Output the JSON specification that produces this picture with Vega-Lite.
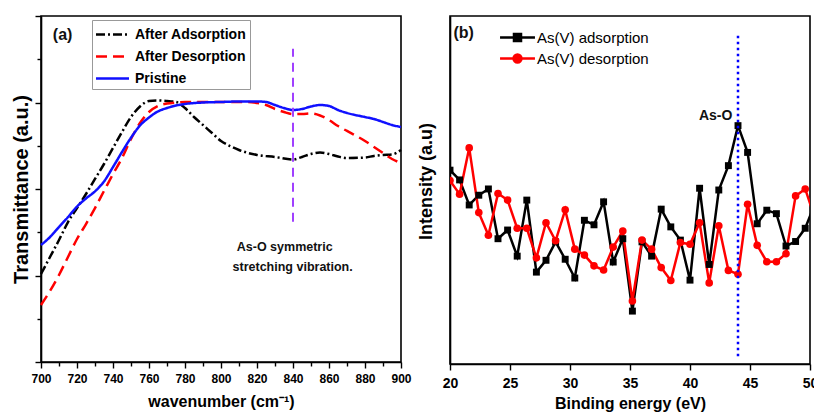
{
  "$schema": "https://vega.github.io/schema/vega-lite/v6.json",
  "background": "white",
  "padding": {"left": 10, "top": 14, "right": 4, "bottom": 2},
  "bounds": "flush",
  "spacing": 49,
  "config": {
    "font": "Liberation Sans, Arial, sans-serif",
    "view": {"stroke": "#000000", "strokeWidth": 1.6},
    "axis": {
      "domainColor": "#000000",
      "domainWidth": 1.6,
      "tickColor": "#000000",
      "tickWidth": 1.4,
      "labelColor": "#000000",
      "titleColor": "#000000",
      "labelFontWeight": "bold",
      "titleFontWeight": "bold",
      "grid": false,
      "labelFlush": false,
      "labelOverlap": false
    }
  },
  "datasets": {
    "ftir": [
      {"wavenumber": 700, "transmittance": 1.017, "sample": "After Adsorption"},
      {"wavenumber": 705, "transmittance": 1.214, "sample": "After Adsorption"},
      {"wavenumber": 710, "transmittance": 1.410, "sample": "After Adsorption"},
      {"wavenumber": 715, "transmittance": 1.618, "sample": "After Adsorption"},
      {"wavenumber": 720, "transmittance": 1.780, "sample": "After Adsorption"},
      {"wavenumber": 725, "transmittance": 1.942, "sample": "After Adsorption"},
      {"wavenumber": 730, "transmittance": 2.116, "sample": "After Adsorption"},
      {"wavenumber": 735, "transmittance": 2.289, "sample": "After Adsorption"},
      {"wavenumber": 740, "transmittance": 2.474, "sample": "After Adsorption"},
      {"wavenumber": 745, "transmittance": 2.659, "sample": "After Adsorption"},
      {"wavenumber": 750, "transmittance": 2.832, "sample": "After Adsorption"},
      {"wavenumber": 755, "transmittance": 2.954, "sample": "After Adsorption"},
      {"wavenumber": 760, "transmittance": 3.017, "sample": "After Adsorption"},
      {"wavenumber": 765, "transmittance": 3.023, "sample": "After Adsorption"},
      {"wavenumber": 770, "transmittance": 3.017, "sample": "After Adsorption"},
      {"wavenumber": 775, "transmittance": 3.006, "sample": "After Adsorption"},
      {"wavenumber": 780, "transmittance": 2.936, "sample": "After Adsorption"},
      {"wavenumber": 785, "transmittance": 2.832, "sample": "After Adsorption"},
      {"wavenumber": 790, "transmittance": 2.740, "sample": "After Adsorption"},
      {"wavenumber": 795, "transmittance": 2.647, "sample": "After Adsorption"},
      {"wavenumber": 800, "transmittance": 2.555, "sample": "After Adsorption"},
      {"wavenumber": 805, "transmittance": 2.497, "sample": "After Adsorption"},
      {"wavenumber": 810, "transmittance": 2.451, "sample": "After Adsorption"},
      {"wavenumber": 820, "transmittance": 2.393, "sample": "After Adsorption"},
      {"wavenumber": 830, "transmittance": 2.370, "sample": "After Adsorption"},
      {"wavenumber": 840, "transmittance": 2.341, "sample": "After Adsorption"},
      {"wavenumber": 845, "transmittance": 2.370, "sample": "After Adsorption"},
      {"wavenumber": 850, "transmittance": 2.405, "sample": "After Adsorption"},
      {"wavenumber": 855, "transmittance": 2.422, "sample": "After Adsorption"},
      {"wavenumber": 860, "transmittance": 2.405, "sample": "After Adsorption"},
      {"wavenumber": 865, "transmittance": 2.376, "sample": "After Adsorption"},
      {"wavenumber": 870, "transmittance": 2.358, "sample": "After Adsorption"},
      {"wavenumber": 880, "transmittance": 2.364, "sample": "After Adsorption"},
      {"wavenumber": 885, "transmittance": 2.382, "sample": "After Adsorption"},
      {"wavenumber": 890, "transmittance": 2.393, "sample": "After Adsorption"},
      {"wavenumber": 895, "transmittance": 2.399, "sample": "After Adsorption"},
      {"wavenumber": 900, "transmittance": 2.451, "sample": "After Adsorption"},

      {"wavenumber": 700, "transmittance": 0.659, "sample": "After Desorption"},
      {"wavenumber": 705, "transmittance": 0.821, "sample": "After Desorption"},
      {"wavenumber": 710, "transmittance": 1.006, "sample": "After Desorption"},
      {"wavenumber": 715, "transmittance": 1.214, "sample": "After Desorption"},
      {"wavenumber": 720, "transmittance": 1.422, "sample": "After Desorption"},
      {"wavenumber": 725, "transmittance": 1.595, "sample": "After Desorption"},
      {"wavenumber": 730, "transmittance": 1.780, "sample": "After Desorption"},
      {"wavenumber": 735, "transmittance": 1.977, "sample": "After Desorption"},
      {"wavenumber": 740, "transmittance": 2.173, "sample": "After Desorption"},
      {"wavenumber": 745, "transmittance": 2.358, "sample": "After Desorption"},
      {"wavenumber": 750, "transmittance": 2.578, "sample": "After Desorption"},
      {"wavenumber": 755, "transmittance": 2.763, "sample": "After Desorption"},
      {"wavenumber": 760, "transmittance": 2.890, "sample": "After Desorption"},
      {"wavenumber": 765, "transmittance": 2.960, "sample": "After Desorption"},
      {"wavenumber": 770, "transmittance": 2.988, "sample": "After Desorption"},
      {"wavenumber": 775, "transmittance": 3.000, "sample": "After Desorption"},
      {"wavenumber": 780, "transmittance": 3.006, "sample": "After Desorption"},
      {"wavenumber": 800, "transmittance": 3.006, "sample": "After Desorption"},
      {"wavenumber": 815, "transmittance": 3.006, "sample": "After Desorption"},
      {"wavenumber": 820, "transmittance": 2.994, "sample": "After Desorption"},
      {"wavenumber": 825, "transmittance": 2.971, "sample": "After Desorption"},
      {"wavenumber": 830, "transmittance": 2.925, "sample": "After Desorption"},
      {"wavenumber": 835, "transmittance": 2.890, "sample": "After Desorption"},
      {"wavenumber": 840, "transmittance": 2.867, "sample": "After Desorption"},
      {"wavenumber": 845, "transmittance": 2.867, "sample": "After Desorption"},
      {"wavenumber": 850, "transmittance": 2.873, "sample": "After Desorption"},
      {"wavenumber": 855, "transmittance": 2.850, "sample": "After Desorption"},
      {"wavenumber": 860, "transmittance": 2.798, "sample": "After Desorption"},
      {"wavenumber": 865, "transmittance": 2.728, "sample": "After Desorption"},
      {"wavenumber": 870, "transmittance": 2.671, "sample": "After Desorption"},
      {"wavenumber": 880, "transmittance": 2.555, "sample": "After Desorption"},
      {"wavenumber": 885, "transmittance": 2.486, "sample": "After Desorption"},
      {"wavenumber": 890, "transmittance": 2.416, "sample": "After Desorption"},
      {"wavenumber": 895, "transmittance": 2.347, "sample": "After Desorption"},
      {"wavenumber": 900, "transmittance": 2.301, "sample": "After Desorption"},

      {"wavenumber": 700, "transmittance": 1.353, "sample": "Pristine"},
      {"wavenumber": 705, "transmittance": 1.445, "sample": "Pristine"},
      {"wavenumber": 710, "transmittance": 1.561, "sample": "Pristine"},
      {"wavenumber": 715, "transmittance": 1.676, "sample": "Pristine"},
      {"wavenumber": 720, "transmittance": 1.797, "sample": "Pristine"},
      {"wavenumber": 725, "transmittance": 1.891, "sample": "Pristine"},
      {"wavenumber": 730, "transmittance": 1.973, "sample": "Pristine"},
      {"wavenumber": 735, "transmittance": 2.087, "sample": "Pristine"},
      {"wavenumber": 740, "transmittance": 2.254, "sample": "Pristine"},
      {"wavenumber": 745, "transmittance": 2.428, "sample": "Pristine"},
      {"wavenumber": 750, "transmittance": 2.593, "sample": "Pristine"},
      {"wavenumber": 755, "transmittance": 2.734, "sample": "Pristine"},
      {"wavenumber": 760, "transmittance": 2.827, "sample": "Pristine"},
      {"wavenumber": 765, "transmittance": 2.897, "sample": "Pristine"},
      {"wavenumber": 770, "transmittance": 2.936, "sample": "Pristine"},
      {"wavenumber": 775, "transmittance": 2.965, "sample": "Pristine"},
      {"wavenumber": 780, "transmittance": 2.983, "sample": "Pristine"},
      {"wavenumber": 790, "transmittance": 3.000, "sample": "Pristine"},
      {"wavenumber": 800, "transmittance": 3.006, "sample": "Pristine"},
      {"wavenumber": 810, "transmittance": 3.012, "sample": "Pristine"},
      {"wavenumber": 820, "transmittance": 3.012, "sample": "Pristine"},
      {"wavenumber": 825, "transmittance": 3.006, "sample": "Pristine"},
      {"wavenumber": 830, "transmittance": 2.971, "sample": "Pristine"},
      {"wavenumber": 835, "transmittance": 2.936, "sample": "Pristine"},
      {"wavenumber": 840, "transmittance": 2.913, "sample": "Pristine"},
      {"wavenumber": 845, "transmittance": 2.925, "sample": "Pristine"},
      {"wavenumber": 850, "transmittance": 2.954, "sample": "Pristine"},
      {"wavenumber": 855, "transmittance": 2.971, "sample": "Pristine"},
      {"wavenumber": 860, "transmittance": 2.960, "sample": "Pristine"},
      {"wavenumber": 865, "transmittance": 2.913, "sample": "Pristine"},
      {"wavenumber": 870, "transmittance": 2.879, "sample": "Pristine"},
      {"wavenumber": 880, "transmittance": 2.832, "sample": "Pristine"},
      {"wavenumber": 885, "transmittance": 2.809, "sample": "Pristine"},
      {"wavenumber": 890, "transmittance": 2.775, "sample": "Pristine"},
      {"wavenumber": 895, "transmittance": 2.740, "sample": "Pristine"},
      {"wavenumber": 900, "transmittance": 2.717, "sample": "Pristine"}
    ],
    "ftirMarker": [
      {"wavenumber": 840, "from": 1.62, "to": 3.62}
    ],
    "ftirNotes": [
      {"wavenumber": 712, "transmittance": 3.78, "note": "(a)", "size": 16},
      {"wavenumber": 835.4, "transmittance": 1.33, "note": "As-O symmetric", "size": 12.5},
      {"wavenumber": 839.8, "transmittance": 1.10, "note": "stretching vibration.", "size": 12.5}
    ],
    "xps": [
      {"energy": 20.0, "intensity": 55.7, "series": "As(V) adsorption"},
      {"energy": 20.8, "intensity": 52.9, "series": "As(V) adsorption"},
      {"energy": 21.6, "intensity": 45.7, "series": "As(V) adsorption"},
      {"energy": 22.4, "intensity": 48.5, "series": "As(V) adsorption"},
      {"energy": 23.2, "intensity": 50.3, "series": "As(V) adsorption"},
      {"energy": 24.0, "intensity": 36.0, "series": "As(V) adsorption"},
      {"energy": 24.8, "intensity": 38.5, "series": "As(V) adsorption"},
      {"energy": 25.6, "intensity": 31.0, "series": "As(V) adsorption"},
      {"energy": 26.4, "intensity": 47.1, "series": "As(V) adsorption"},
      {"energy": 27.2, "intensity": 26.4, "series": "As(V) adsorption"},
      {"energy": 28.0, "intensity": 29.8, "series": "As(V) adsorption"},
      {"energy": 28.8, "intensity": 35.1, "series": "As(V) adsorption"},
      {"energy": 29.6, "intensity": 30.1, "series": "As(V) adsorption"},
      {"energy": 30.4, "intensity": 24.7, "series": "As(V) adsorption"},
      {"energy": 31.2, "intensity": 41.3, "series": "As(V) adsorption"},
      {"energy": 32.0, "intensity": 40.0, "series": "As(V) adsorption"},
      {"energy": 32.8, "intensity": 46.6, "series": "As(V) adsorption"},
      {"energy": 33.6, "intensity": 29.3, "series": "As(V) adsorption"},
      {"energy": 34.4, "intensity": 36.0, "series": "As(V) adsorption"},
      {"energy": 35.2, "intensity": 15.2, "series": "As(V) adsorption"},
      {"energy": 36.0, "intensity": 35.1, "series": "As(V) adsorption"},
      {"energy": 36.8, "intensity": 31.0, "series": "As(V) adsorption"},
      {"energy": 37.6, "intensity": 44.5, "series": "As(V) adsorption"},
      {"energy": 38.4, "intensity": 39.4, "series": "As(V) adsorption"},
      {"energy": 39.2, "intensity": 35.6, "series": "As(V) adsorption"},
      {"energy": 40.0, "intensity": 24.1, "series": "As(V) adsorption"},
      {"energy": 40.8, "intensity": 50.5, "series": "As(V) adsorption"},
      {"energy": 41.6, "intensity": 28.6, "series": "As(V) adsorption"},
      {"energy": 42.4, "intensity": 50.0, "series": "As(V) adsorption"},
      {"energy": 43.2, "intensity": 57.0, "series": "As(V) adsorption"},
      {"energy": 44.0, "intensity": 68.5, "series": "As(V) adsorption"},
      {"energy": 44.8, "intensity": 60.8, "series": "As(V) adsorption"},
      {"energy": 45.6, "intensity": 40.3, "series": "As(V) adsorption"},
      {"energy": 46.4, "intensity": 44.2, "series": "As(V) adsorption"},
      {"energy": 47.2, "intensity": 43.2, "series": "As(V) adsorption"},
      {"energy": 48.0, "intensity": 33.9, "series": "As(V) adsorption"},
      {"energy": 48.8, "intensity": 35.2, "series": "As(V) adsorption"},
      {"energy": 49.6, "intensity": 39.0, "series": "As(V) adsorption"},
      {"energy": 50.4, "intensity": 46.0, "series": "As(V) adsorption"},

      {"energy": 20.0, "intensity": 52.7, "series": "As(V) desorption"},
      {"energy": 20.8, "intensity": 48.8, "series": "As(V) desorption"},
      {"energy": 21.6, "intensity": 62.1, "series": "As(V) desorption"},
      {"energy": 22.4, "intensity": 43.5, "series": "As(V) desorption"},
      {"energy": 23.2, "intensity": 37.0, "series": "As(V) desorption"},
      {"energy": 24.0, "intensity": 49.0, "series": "As(V) desorption"},
      {"energy": 24.8, "intensity": 47.1, "series": "As(V) desorption"},
      {"energy": 25.6, "intensity": 39.0, "series": "As(V) desorption"},
      {"energy": 26.4, "intensity": 39.0, "series": "As(V) desorption"},
      {"energy": 27.2, "intensity": 30.5, "series": "As(V) desorption"},
      {"energy": 28.0, "intensity": 40.6, "series": "As(V) desorption"},
      {"energy": 28.8, "intensity": 35.4, "series": "As(V) desorption"},
      {"energy": 29.6, "intensity": 44.3, "series": "As(V) desorption"},
      {"energy": 30.4, "intensity": 33.0, "series": "As(V) desorption"},
      {"energy": 31.2, "intensity": 31.3, "series": "As(V) desorption"},
      {"energy": 32.0, "intensity": 28.2, "series": "As(V) desorption"},
      {"energy": 32.8, "intensity": 27.0, "series": "As(V) desorption"},
      {"energy": 33.6, "intensity": 33.6, "series": "As(V) desorption"},
      {"energy": 34.4, "intensity": 38.2, "series": "As(V) desorption"},
      {"energy": 35.2, "intensity": 18.1, "series": "As(V) desorption"},
      {"energy": 36.0, "intensity": 35.6, "series": "As(V) desorption"},
      {"energy": 36.8, "intensity": 33.0, "series": "As(V) desorption"},
      {"energy": 37.6, "intensity": 27.7, "series": "As(V) desorption"},
      {"energy": 38.4, "intensity": 24.0, "series": "As(V) desorption"},
      {"energy": 39.2, "intensity": 34.9, "series": "As(V) desorption"},
      {"energy": 40.0, "intensity": 34.4, "series": "As(V) desorption"},
      {"energy": 40.8, "intensity": 40.6, "series": "As(V) desorption"},
      {"energy": 41.6, "intensity": 23.3, "series": "As(V) desorption"},
      {"energy": 42.4, "intensity": 39.7, "series": "As(V) desorption"},
      {"energy": 43.2, "intensity": 26.9, "series": "As(V) desorption"},
      {"energy": 44.0, "intensity": 25.8, "series": "As(V) desorption"},
      {"energy": 44.8, "intensity": 45.9, "series": "As(V) desorption"},
      {"energy": 45.6, "intensity": 34.1, "series": "As(V) desorption"},
      {"energy": 46.4, "intensity": 29.4, "series": "As(V) desorption"},
      {"energy": 47.2, "intensity": 29.4, "series": "As(V) desorption"},
      {"energy": 48.0, "intensity": 31.7, "series": "As(V) desorption"},
      {"energy": 48.8, "intensity": 48.3, "series": "As(V) desorption"},
      {"energy": 49.6, "intensity": 50.3, "series": "As(V) desorption"},
      {"energy": 50.4, "intensity": 42.0, "series": "As(V) desorption"}
    ],
    "xpsMarker": [
      {"energy": 44.0, "from": 2.2, "to": 95.0}
    ],
    "xpsNotes": [
      {"energy": 21.14, "intensity": 95.0, "note": "(b)", "size": 16},
      {"energy": 42.14, "intensity": 71.4, "note": "As-O", "size": 14}
    ]
  },
  "resolve": {
    "scale": {"color": "independent", "strokeDash": "independent"},
    "legend": {"color": "independent", "strokeDash": "independent"}
  },
  "hconcat": [
    {
      "width": 360,
      "height": 346,
      "resolve": {"axis": {"x": "independent"}},
      "layer": [
        {
          "data": {"name": "ftir"},
          "mark": {"type": "line", "strokeWidth": 2.5, "interpolate": "monotone"},
          "encoding": {
            "x": {
              "field": "wavenumber", "type": "quantitative",
              "scale": {"domain": [700, 900], "nice": false, "zero": false},
              "axis": {
                "orient": "bottom",
                "title": "wavenumber (cm⁻¹)",
                "titleFontSize": 16,
                "titlePadding": 9,
                "labelFontSize": 12,
                "labelPadding": 5,
                "labelOverlap": false,
                "values": [700, 720, 740, 760, 780, 800, 820, 840, 860, 880, 900],
                "tickSize": 6
              }
            },
            "y": {
              "field": "transmittance", "type": "quantitative",
              "scale": {"domain": [0, 4], "nice": false, "zero": false},
              "axis": {
                "title": "Transmittance (a.u.)",
                "titleFontSize": 20,
                "titlePadding": 3,
                "labels": false,
                "values": [0, 0.5, 1, 1.5, 2, 2.5, 3, 3.5, 4],
                "tickSize": {"condition": {"test": "datum.value % 1 === 0", "value": 6}, "value": 4}
              }
            },
            "color": {
              "field": "sample", "type": "nominal",
              "scale": {"domain": ["After Adsorption", "After Desorption", "Pristine"], "range": ["#000000", "#ff0000", "#1010ff"]},
              "legend": {
                "title": null, "orient": "none", "legendX": 51, "legendY": 4,
                "symbolType": "M-1.65,0H1.65", "symbolSize": 400, "symbolStrokeWidth": 2.5, "symbolOffset": 6,
                "labelFontSize": 14, "labelFontWeight": "bold", "labelColor": "#000000", "labelOffset": 11,
                "strokeColor": "#999999", "fillColor": "white", "padding": 3, "rowPadding": 3
              }
            },
            "strokeDash": {
              "field": "sample", "type": "nominal",
              "scale": {"domain": ["After Adsorption", "After Desorption", "Pristine"], "range": [[9, 3, 2, 3], [11, 6], [1, 0]]},
              "legend": {
                "title": null, "orient": "none", "legendX": 51, "legendY": 4,
                "symbolType": "M-1.65,0H1.65", "symbolSize": 400, "symbolStrokeWidth": 2.5, "symbolOffset": 6,
                "labelFontSize": 14, "labelFontWeight": "bold", "labelColor": "#000000", "labelOffset": 11,
                "strokeColor": "#999999", "fillColor": "white", "padding": 3, "rowPadding": 3
              }
            }
          }
        },
        {
          "data": {"name": "ftirMarker"},
          "mark": {"type": "rule", "color": "#a040ff", "strokeWidth": 2, "strokeDash": [9, 6]},
          "encoding": {
            "x": {
              "field": "wavenumber", "type": "quantitative",
              "axis": {
                "orient": "bottom",
                "title": null,
                "labels": false,
                "domain": false,
                "values": [710, 730, 750, 770, 790, 810, 830, 850, 870, 890],
                "tickSize": 4
              }
            },
            "y": {"field": "from", "type": "quantitative"},
            "y2": {"field": "to"}
          }
        },
        {
          "data": {"name": "ftirNotes"},
          "mark": {"type": "text", "fontWeight": "bold", "color": "#111111", "align": "center", "baseline": "middle"},
          "encoding": {
            "x": {"field": "wavenumber", "type": "quantitative", "axis": null},
            "y": {"field": "transmittance", "type": "quantitative"},
            "text": {"field": "note"},
            "size": {"field": "size", "type": "quantitative", "scale": null, "legend": null}
          }
        }
      ]
    },
    {
      "width": 360,
      "height": 348,
      "layer": [
        {
          "data": {"name": "xps"},
          "mark": {"type": "line", "strokeWidth": 2.5, "clip": true},
          "encoding": {
            "x": {
              "field": "energy", "type": "quantitative",
              "scale": {"domain": [20, 50], "nice": false, "zero": false},
              "axis": {
                "title": "Binding energy (eV)",
                "titleFontSize": 16,
                "titlePadding": 5,
                "labelFontSize": 14,
                "labelPadding": 6,
                "labelOverlap": false,
                "values": [20, 22.5, 25, 27.5, 30, 32.5, 35, 37.5, 40, 42.5, 45, 47.5, 50],
                "labelExpr": "datum.value % 5 === 0 ? datum.label : ''",
                "tickSize": {"condition": {"test": "datum.value % 5 === 0", "value": 6}, "value": 4}
              }
            },
            "y": {
              "field": "intensity", "type": "quantitative",
              "scale": {"domain": [0, 100], "nice": false, "zero": false},
              "axis": {
                "title": "Intensity (a.u)",
                "titleFontSize": 18,
                "titlePadding": 15,
                "titleY": 165,
                "labels": false,
                "ticks": false
              }
            },
            "color": {
              "field": "series", "type": "nominal",
              "scale": {"domain": ["As(V) adsorption", "As(V) desorption"], "range": ["#000000", "#ff0000"]},
              "legend": {
                "title": null, "orient": "none", "legendX": 57, "legendY": 11, "padding": 0,
                "symbolType": "M-1.94,0H1.94", "symbolSize": 324, "symbolStrokeWidth": 2.5, "symbolOffset": 0,
                "labelFontSize": 15, "labelColor": "#000000", "labelOffset": 9, "rowPadding": 1,
                "encode": {
                  "symbols": {
                    "update": {
                      "shape": {"signal": "datum.value === 'As(V) adsorption' ? 'M-1.94,0H1.94M-0.39,-0.39H0.39V0.39H-0.39Z' : 'M-1.94,0H1.94M0.44,0A0.44,0.44,0,1,1,-0.44,0A0.44,0.44,0,1,1,0.44,0Z'"},
                      "fill": {"signal": "datum.value === 'As(V) adsorption' ? '#000000' : '#ff0000'"},
                      "stroke": {"signal": "datum.value === 'As(V) adsorption' ? '#000000' : '#ff0000'"},
                      "strokeWidth": {"value": 2.5},
                      "opacity": {"value": 1}
                    }
                  }
                }
              }
            }
          }
        },
        {
          "data": {"name": "xps"},
          "transform": [{"filter": "datum.series === 'As(V) adsorption'"}],
          "mark": {"type": "point", "shape": "square", "filled": true, "opacity": 1, "size": 48, "color": "#000000", "clip": true},
          "encoding": {
            "x": {"field": "energy", "type": "quantitative"},
            "y": {"field": "intensity", "type": "quantitative"}
          }
        },
        {
          "data": {"name": "xps"},
          "transform": [{"filter": "datum.series === 'As(V) desorption'"}],
          "mark": {"type": "point", "shape": "circle", "filled": true, "opacity": 1, "size": 58, "color": "#ff0000", "clip": true},
          "encoding": {
            "x": {"field": "energy", "type": "quantitative"},
            "y": {"field": "intensity", "type": "quantitative"}
          }
        },
        {
          "data": {"name": "xpsMarker"},
          "mark": {"type": "rule", "color": "#0000ff", "strokeWidth": 2.5, "strokeDash": [2.5, 3.5]},
          "encoding": {
            "x": {"field": "energy", "type": "quantitative"},
            "y": {"field": "from", "type": "quantitative"},
            "y2": {"field": "to"}
          }
        },
        {
          "data": {"name": "xpsNotes"},
          "mark": {"type": "text", "fontWeight": "bold", "color": "#111111", "align": "center", "baseline": "middle"},
          "encoding": {
            "x": {"field": "energy", "type": "quantitative"},
            "y": {"field": "intensity", "type": "quantitative"},
            "text": {"field": "note"},
            "size": {"field": "size", "type": "quantitative", "scale": null, "legend": null}
          }
        }
      ]
    }
  ]
}
